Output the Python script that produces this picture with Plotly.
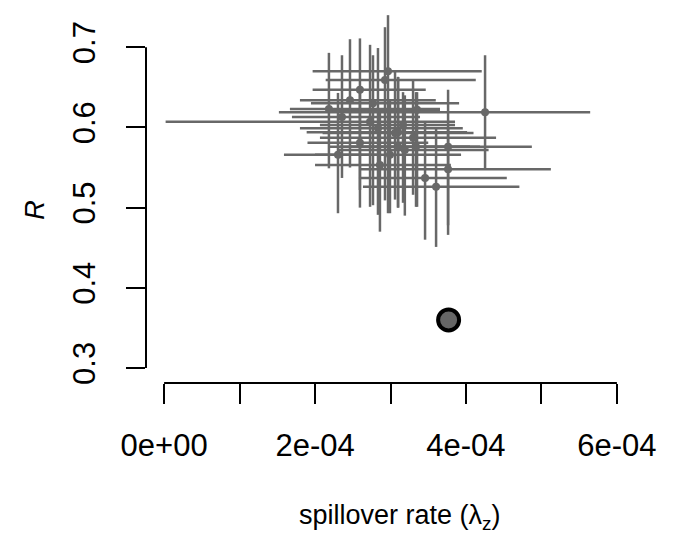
import plotly.graph_objects as go

# Estimates (spillover rate, R) with interval bounds
x_est = [2.967e-4, 2.927e-4, 2.595e-4, 2.768e-4, 4.253e-4, 2.184e-4, 2.357e-4, 2.729e-4,
         2.834e-4, 3.100e-4, 3.299e-4, 3.763e-4, 2.993e-4, 2.304e-4, 3.100e-4, 3.338e-4,
         3.763e-4, 3.458e-4, 3.604e-4, 3.166e-4, 3.352e-4,
         2.463e-4, 3.060e-4, 2.595e-4, 3.190e-4, 2.860e-4]
x_low = [1.968e-4, 2.141e-4, 1.968e-4, 1.946e-4, 1.521e-4, 1.667e-4, 1.694e-4, 0.02e-4,
         1.800e-4, 1.889e-4, 2.065e-4, 2.463e-4, 1.588e-4, 1.999e-4, 2.198e-4, 2.330e-4,
         2.596e-4, 2.582e-4, 2.635e-4, 2.065e-4, 2.198e-4,
         1.800e-4, 2.100e-4, 1.900e-4, 2.300e-4, 2.000e-4]
x_high = [4.209e-4, 4.130e-4, 3.467e-4, 3.909e-4, 5.646e-4, 3.656e-4, 3.391e-4, 3.855e-4,
          3.958e-4, 4.015e-4, 4.399e-4, 4.873e-4, 3.935e-4, 2.861e-4, 4.054e-4, 4.187e-4,
          5.125e-4, 4.541e-4, 4.708e-4, 3.855e-4, 3.656e-4,
          3.600e-4, 4.100e-4, 3.500e-4, 4.300e-4, 3.800e-4]
r_est = [0.670, 0.659, 0.647, 0.630, 0.619, 0.623, 0.613, 0.607, 0.599, 0.594, 0.587, 0.576,
         0.566, 0.566, 0.576, 0.576, 0.548, 0.537, 0.526, 0.603, 0.622,
         0.634, 0.593, 0.581, 0.572, 0.553]
r_low = [0.493, 0.509, 0.522, 0.503, 0.547, 0.549, 0.537, 0.501, 0.491, 0.500, 0.516, 0.466,
         0.493, 0.493, 0.500, 0.501, 0.478, 0.460, 0.451, 0.506, 0.501,
         0.550, 0.510, 0.500, 0.490, 0.470]
r_high = [0.740, 0.725, 0.711, 0.690, 0.690, 0.693, 0.690, 0.703, 0.699, 0.663, 0.659, 0.647,
          0.634, 0.643, 0.663, 0.644, 0.599, 0.607, 0.599, 0.644, 0.644,
          0.710, 0.670, 0.650, 0.640, 0.620]

# Highlighted point
hl_x = [3.77e-4]
hl_r = [0.360]

x_ticks = [0, 1e-4, 2e-4, 3e-4, 4e-4, 5e-4, 6e-4]
x_ticktext = ["0e+00", "", "2e-04", "", "4e-04", "", "6e-04"]
y_ticks = [0.3, 0.4, 0.5, 0.6, 0.7]
y_ticktext = ["0.3", "0.4", "0.5", "0.6", "0.7"]

GRAY = "#686868"
FONT = "Liberation Sans, Arial, sans-serif"

fig = go.Figure()
fig.add_trace(go.Scatter(
    x=x_est, y=r_est, mode="markers",
    marker=dict(size=8, color=GRAY),
    error_x=dict(type="data", symmetric=False,
                 array=[h - v for h, v in zip(x_high, x_est)],
                 arrayminus=[v - l for v, l in zip(x_est, x_low)],
                 color=GRAY, thickness=2.5, width=0),
    error_y=dict(type="data", symmetric=False,
                 array=[h - v for h, v in zip(r_high, r_est)],
                 arrayminus=[v - l for v, l in zip(r_est, r_low)],
                 color=GRAY, thickness=2.5, width=0),
    showlegend=False, cliponaxis=False,
))
fig.add_trace(go.Scatter(
    x=hl_x, y=hl_r, mode="markers",
    marker=dict(size=21, color="#666666", line=dict(color="black", width=4)),
    showlegend=False,
))

# R-style detached axis lines spanning first to last tick
fig.add_shape(type="line", xref="x", yref="paper", x0=x_ticks[0], x1=x_ticks[-1], y0=0, y1=0,
              line=dict(color="black", width=2))
fig.add_shape(type="line", xref="paper", yref="y", x0=0, x1=0, y0=y_ticks[0], y1=y_ticks[-1],
              line=dict(color="black", width=2))

fig.add_annotation(text="spillover rate (λ<sub>z</sub>)", xref="paper", yref="paper",
                   x=0.519, y=-0.35, xanchor="center", yanchor="middle", showarrow=False,
                   font=dict(family=FONT, size=27, color="black"))
fig.add_annotation(text="<i>R</i>", xref="paper", yref="paper",
                   x=-0.2276, y=0.4517, xanchor="center", yanchor="middle",
                   showarrow=False, textangle=-90,
                   font=dict(family=FONT, size=27, color="black"))

fig.update_layout(
    width=683, height=534, autosize=False,
    margin=dict(l=146, r=48, t=0, b=151),
    paper_bgcolor="white", plot_bgcolor="white",
    xaxis=dict(range=[-0.24e-4, 6.24e-4], tickvals=x_ticks, ticktext=x_ticktext,
               ticks="outside", ticklen=20, tickwidth=2, tickcolor="black",
               showline=False, showgrid=False, zeroline=False,
               tickfont=dict(family=FONT, size=31, color="black"),
               ticklabelstandoff=15),
    yaxis=dict(range=[0.2813, 0.7589], tickvals=y_ticks, ticktext=y_ticktext,
               ticks="outside", ticklen=19, tickwidth=2, tickcolor="black",
               showline=False, showgrid=False, zeroline=False, tickangle=-90,
               tickfont=dict(family=FONT, size=31, color="black"),
               ticklabelstandoff=19),
)

fig.write_html("out.html")
